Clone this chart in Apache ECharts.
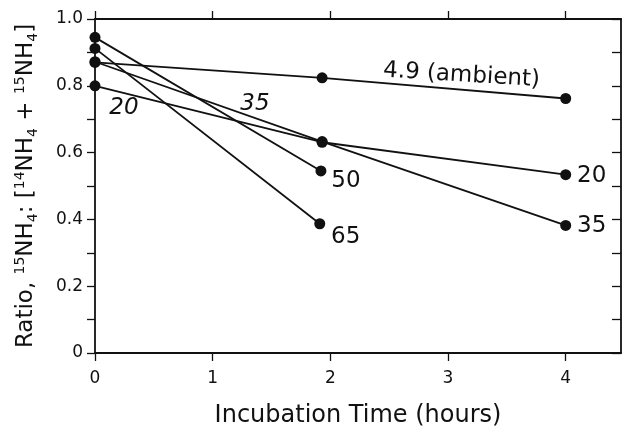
<!DOCTYPE html>
<html>
<head>
<meta charset="utf-8">
<script src="https://cdn.jsdelivr.net/npm/echarts@6/dist/echarts.min.js"></script>
<style>
html,body{margin:0;padding:0;background:#fff;}
#c{width:628px;height:426px;}
</style>
</head>
<body>
<div id="c"></div>
<script>
// ---- data ----
const xTicks = [0, 1, 2, 3, 4];
const yTicks = [0, 0.2, 0.4, 0.6, 0.8, 1.0];
const yMinorTicks = [0, 0.1, 0.2, 0.3, 0.4, 0.5, 0.6, 0.7, 0.8, 0.9, 1.0];
const xAmbient = [0, 1.93, 4];
const yAmbient = [0.870, 0.824, 0.762];
const x20 = [0, 1.93, 4];
const y20 = [0.800, 0.631, 0.534];
const x35 = [0, 1.93, 4];
const y35 = [0.872, 0.633, 0.382];
const x50 = [0, 1.92];
const y50 = [0.945, 0.545];
const x65 = [0, 1.91];
const y65 = [0.912, 0.387];
const labelAmbient = '4.9 (ambient)';
const label20 = '20';
const label35 = '35';
const label50 = '50';
const label65 = '65';
const xTitle = 'Incubation Time (hours)';

const FONT = 'DejaVu Sans';
const chart = echarts.init(document.getElementById('c'), null, {renderer: 'canvas'});

function pts(xs, ys) { return xs.map((x, i) => [x, ys[i]]); }

function withLabels(xs, ys, specs) {
  return pts(xs, ys).map((p, i) => {
    const s = specs[i];
    if (!s) return {value: p};
    return {value: p, label: Object.assign({
      show: true, position: 'inside', align: 'center', verticalAlign: 'middle',
      fontFamily: FONT, fontSize: 23, color: '#111'
    }, s)};
  });
}

const lineBase = {
  type: 'line', symbol: 'circle', symbolSize: 11,
  lineStyle: {color: '#111', width: 1.8},
  itemStyle: {color: '#111'},
  animation: false, z: 3,
  label: {show: false}
};

const axisLineStyle = {show: true, onZero: false, lineStyle: {color: '#111', width: 1.8}};
const tickStyle = {color: '#111', width: 1.3};

const option = {
  backgroundColor: '#fff',
  animation: false,
  grid: {left: 95, right: 7, top: 19, bottom: 73, containLabel: false, outerBoundsMode: 'none'},
  xAxis: [{
    type: 'value', min: 0, max: 4.47, interval: 1, position: 'bottom',
    axisLine: axisLineStyle,
    axisTick: {show: true, inside: false, length: 8, lineStyle: tickStyle, customValues: xTicks},
    axisLabel: {fontFamily: FONT, fontSize: 17, color: '#111', margin: 17, customValues: xTicks,
      formatter: v => String(Math.round(v))},
    splitLine: {show: false},
    name: xTitle, nameLocation: 'middle', nameGap: 51,
    nameTextStyle: {fontFamily: FONT, fontSize: 24, color: '#111'}
  }, {
    type: 'value', min: 0, max: 4.47, interval: 1, position: 'top',
    axisLine: axisLineStyle,
    axisTick: {show: true, inside: false, length: 8, lineStyle: tickStyle, customValues: xTicks},
    axisLabel: {show: false}, splitLine: {show: false}
  }],
  yAxis: [{
    type: 'value', min: 0, max: 1.0, interval: 0.1, position: 'left',
    axisLine: axisLineStyle,
    axisTick: {show: true, inside: false, length: 8, lineStyle: tickStyle, customValues: yMinorTicks},
    axisLabel: {fontFamily: FONT, fontSize: 17, color: '#111', margin: 12, customValues: yTicks,
      formatter: v => (Math.abs(v) < 1e-9 ? '0' : v.toFixed(1))},
    splitLine: {show: false},
    name: '{n|Ratio, }{sup|15}{n|NH}{sub|4}{n|: [}{sup|14}{n|NH}{sub|4}{n| + }{sup|15}{n|NH}{sub|4}{n|]}',
    nameLocation: 'middle', nameGap: 54, nameRotate: 90,
    nameTextStyle: {
      fontFamily: FONT, fontSize: 23, color: '#111',
      rich: {
        n: {fontFamily: FONT, fontSize: 23, color: '#111', lineHeight: 30, verticalAlign: 'middle'},
        sup: {fontFamily: FONT, fontSize: 14, color: '#111', lineHeight: 30, verticalAlign: 'top', padding: [2, 0, 0, 0]},
        sub: {fontFamily: FONT, fontSize: 14, color: '#111', lineHeight: 30, verticalAlign: 'bottom', padding: [0, 0, 1, 0]}
      }
    }
  }, {
    type: 'value', min: 0, max: 1.0, interval: 0.1, position: 'right',
    axisLine: axisLineStyle,
    axisTick: {show: true, inside: true, length: 9, lineStyle: tickStyle, customValues: yMinorTicks},
    axisLabel: {show: false}, splitLine: {show: false}
  }],
  series: [
    Object.assign({}, lineBase, {name: labelAmbient,
      data: withLabels(xAmbient, yAmbient, [null, {formatter: labelAmbient, offset: [139, -11], rotate: -3.5}, null])}),
    Object.assign({}, lineBase, {name: label20,
      data: withLabels(x20, y20, [{formatter: label20, fontStyle: 'italic', offset: [29, 22]}, null,
        {formatter: label20, offset: [26, 1]}])}),
    Object.assign({}, lineBase, {name: label35,
      data: withLabels(x35, y35, [{formatter: label35, fontStyle: 'italic', offset: [160, 42]}, null,
        {formatter: label35, offset: [26, 1]}])}),
    Object.assign({}, lineBase, {name: label50,
      data: withLabels(x50, y50, [null, {formatter: label50, offset: [25, 10]}])}),
    Object.assign({}, lineBase, {name: label65,
      data: withLabels(x65, y65, [null, {formatter: label65, offset: [26, 13]}])})
  ]
};
chart.setOption(option);
</script>
</body>
</html>
